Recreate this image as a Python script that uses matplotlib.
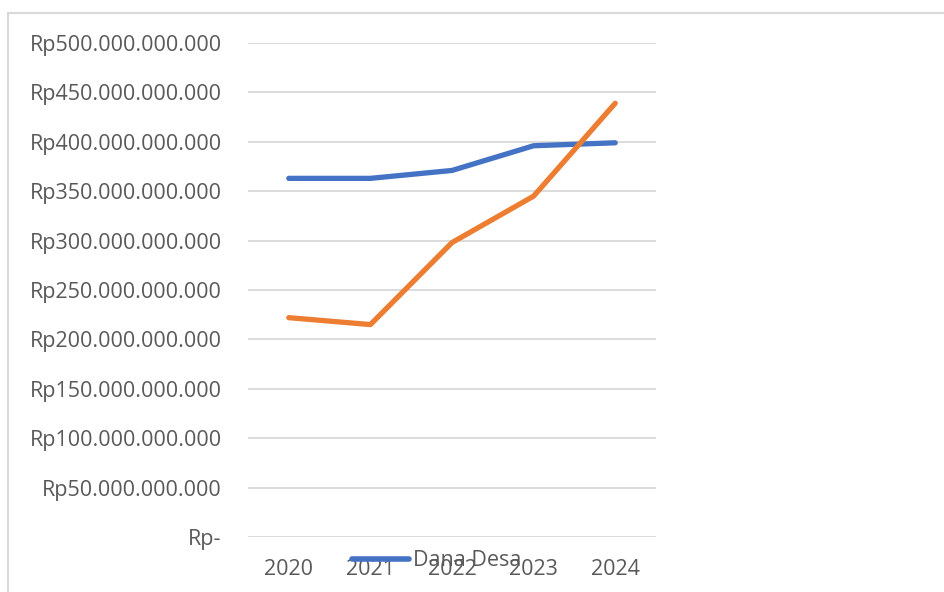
import matplotlib.pyplot as plt
from matplotlib.lines import Line2D
from matplotlib.ticker import FuncFormatter

# --- Dados ---
tahun = ["2020", "2021", "2022", "2023", "2024"]
dana_desa = [363e9, 363e9, 371e9, 396e9, 399e9]
seri_kedua = [222e9, 215e9, 298e9, 345e9, 439e9]

BLUE = "#4472C4"
ORANGE = "#ED7D31"
GRID = "#D9D9D9"
TEXT = "#595959"
FS = 15.5

plt.rcParams["font.family"] = ["Open Sans", "DejaVu Sans"]


def rupiah(v, _pos):
    if v == 0:
        return "Rp-"
    return "Rp" + f"{int(round(v)):,}".replace(",", ".")


fig = plt.figure(figsize=(9.44, 5.92), dpi=100)
ax = fig.add_axes([248 / 944, 1 - 537 / 592, 408 / 944, 494 / 592])

x = range(len(tahun))
ax.plot(x, dana_desa, color=BLUE, lw=3.8, solid_capstyle="round",
        solid_joinstyle="round", zorder=3)
ax.plot(x, seri_kedua, color=ORANGE, lw=3.8, solid_capstyle="round",
        solid_joinstyle="round", zorder=3)

ax.set_xlim(-0.5, len(tahun) - 0.5)
ax.set_ylim(0, 500e9)
ax.set_yticks([i * 50e9 for i in range(11)])
ax.yaxis.set_major_formatter(FuncFormatter(rupiah))
ax.set_xticks(list(x), tahun)

ax.grid(axis="y", color=GRID, lw=1.3)
ax.set_axisbelow(True)
for s in ax.spines.values():
    s.set_visible(False)
ax.tick_params(axis="both", length=0, labelsize=FS, labelcolor=TEXT)
ax.tick_params(axis="y", pad=19)
ax.tick_params(axis="x", pad=16)

# legenda sobreposta aos rótulos do eixo x (como no original)
ax.legend(handles=[Line2D([], [], color=BLUE, lw=4, solid_capstyle="round")],
          labels=["Dana Desa"], loc="center left", frameon=False,
          bbox_to_anchor=(352 / 944, 1 - 561 / 592), bbox_transform=fig.transFigure,
          fontsize=FS, labelcolor=TEXT, handlelength=2.65, handletextpad=0.2,
          borderaxespad=0, borderpad=0)

# borda do gráfico
fig.add_artist(Line2D([8 / 944, 1], [1 - 13 / 592] * 2, transform=fig.transFigure,
                      color=GRID, lw=1.5))
fig.add_artist(Line2D([8 / 944] * 2, [0, 1 - 13 / 592], transform=fig.transFigure,
                      color=GRID, lw=1.5))

fig.savefig("out.png", dpi=100)
